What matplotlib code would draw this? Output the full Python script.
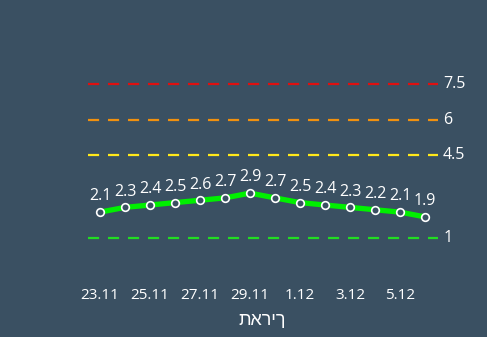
import matplotlib
matplotlib.use("Agg")
import matplotlib.pyplot as plt

dates = ["23.11", "24.11", "25.11", "26.11", "27.11", "28.11", "29.11", "30.11",
         "1.12", "2.12", "3.12", "4.12", "5.12", "6.12"]
values = [2.1, 2.3, 2.4, 2.5, 2.6, 2.7, 2.9, 2.7, 2.5, 2.4, 2.3, 2.2, 2.1, 1.9]
thresholds = [1, 4.5, 6, 7.5]
threshold_labels = ["1", "4.5", "6", "7.5"]
threshold_colors = ["#22dd22", "#ffe81a", "#f0900f", "#e01010"]
xlabel = "תאריך"

BG = "#3a5062"
plt.rcParams['font.family'] = ['Open Sans', 'DejaVu Sans']

fig = plt.figure(figsize=(4.87, 3.37), dpi=100, facecolor=BG)
ax = fig.add_axes([87.5/487, 75/337, 350/487, 190/337])
ax.set_facecolor(BG)

x = list(range(len(dates)))
ax.set_xlim(-0.5, len(dates) - 0.5)
ax.set_ylim(0, 8)

for t, lab, c in zip(thresholds, threshold_labels, threshold_colors):
    ax.axhline(t, color=c, lw=1.6, linestyle=(0, (5.0, 4.0)))
    ax.annotate(lab, xy=(1, t), xycoords=('axes fraction', 'data'),
                xytext=(4, 0), textcoords='offset points',
                ha='left', va='center', color='white', fontsize=11.5)

ax.plot(x, values, color="#00f000", lw=3.8, zorder=3, solid_capstyle='round')
ax.plot(x, values, linestyle='none', marker='o', markersize=5.5,
        markerfacecolor=BG, markeredgecolor='white', markeredgewidth=1.2, zorder=4)

for xi, v in zip(x, values):
    ax.annotate(f"{v:g}", xy=(xi, v), xytext=(0, 5.5), textcoords='offset points',
                ha='center', va='bottom', color='white', fontsize=11.5)

ax.set_xticks(x[::2])
ax.set_xticklabels(dates[::2], color='white', fontsize=11)
ax.tick_params(axis='x', length=0, pad=18.5)
ax.set_yticks([])
for s in ax.spines.values():
    s.set_visible(False)

ax.set_xlabel(xlabel, color='white', fontsize=13, labelpad=7,
              family=['Liberation Sans', 'DejaVu Sans'])

fig.savefig("out.png", dpi=100, facecolor=BG)
